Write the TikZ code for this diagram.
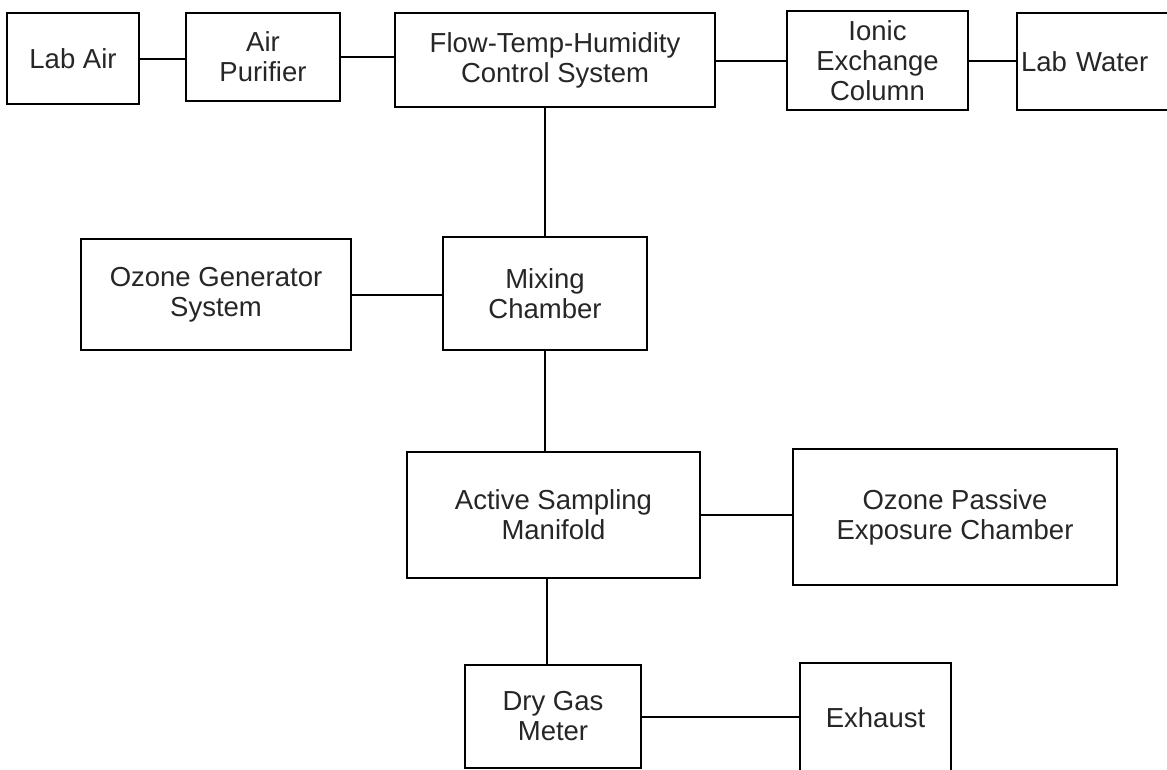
\documentclass[tikz,border=0pt]{standalone}
\usepackage{fontspec}
\setmainfont{Liberation Sans}
\usepackage{tikz}
\usetikzlibrary{calc}

\begin{document}
\begin{tikzpicture}[
    x=1pt, y=-1pt,
    stage/.style={draw, rectangle, line width=2pt, inner sep=0, align=center,
        text=black!85, font=\fontsize{27.5}{30}\selectfont},
    link/.style={draw, line width=2pt}]
\useasboundingbox (0,0) rectangle (1167,769);
\clip (0,0) rectangle (1167,769);

\node[stage, minimum width=132, minimum height=91]  (LABAIR)   at (73,58.5)    {Lab Air};
\node[stage, minimum width=154, minimum height=88]  (PURIFIER) at (263,57)     {Air\\Purifier};
\node[stage, minimum width=320, minimum height=94]  (FTHCTRL)  at (555,60)     {Flow-Temp-Humidity\\Control System};
\node[stage, minimum width=181, minimum height=99]  (IONIC)    at (877.5,60.5) {Ionic\\Exchange\\Column};
\node[stage, minimum width=173, minimum height=97, inner xsep=4, text width=165, align=left]
                                                    (LABWATER) at (1103.5,61.5) {Lab Water};
\node[stage, minimum width=270, minimum height=111] (OZONEGEN) at (216,294.5)  {Ozone Generator\\System};
\node[stage, minimum width=204, minimum height=113] (MIXING)   at (545,293.5)  {Mixing\\Chamber};
\node[stage, minimum width=293, minimum height=126] (ACTIVE)   at (553.5,515)  {Active Sampling\\Manifold};
\node[stage, minimum width=324, minimum height=136] (PASSIVE)  at (955,517)    {Ozone Passive\\Exposure Chamber};
\node[stage, minimum width=176, minimum height=103] (DRYGAS)   at (553,716.5)  {Dry Gas\\Meter};
\node[stage, minimum width=151, minimum height=110] (EXHAUST)  at (875.5,718)  {Exhaust};

\path[link] (LABAIR.east)   -- (LABAIR.east -| PURIFIER.west);
\path[link] (PURIFIER.east) -- (PURIFIER.east -| FTHCTRL.west);
\path[link] (IONIC.west)    -- (IONIC.west -| FTHCTRL.east);
\path[link] (IONIC.east)    -- (IONIC.east -| LABWATER.west);
\path[link] (MIXING.north)  -- (MIXING.north |- FTHCTRL.south);
\path[link] (OZONEGEN.east) -- (OZONEGEN.east -| MIXING.west);
\path[link] (MIXING.south)  -- (MIXING.south |- ACTIVE.north);
\path[link] (ACTIVE.east)   -- (ACTIVE.east -| PASSIVE.west);
\path[link] ([xshift=2]MIXING.south |- ACTIVE.south) -- ([xshift=2]MIXING.south |- DRYGAS.north);
\path[link] (DRYGAS.east)   -- (DRYGAS.east -| EXHAUST.west);

\end{tikzpicture}
\end{document}
